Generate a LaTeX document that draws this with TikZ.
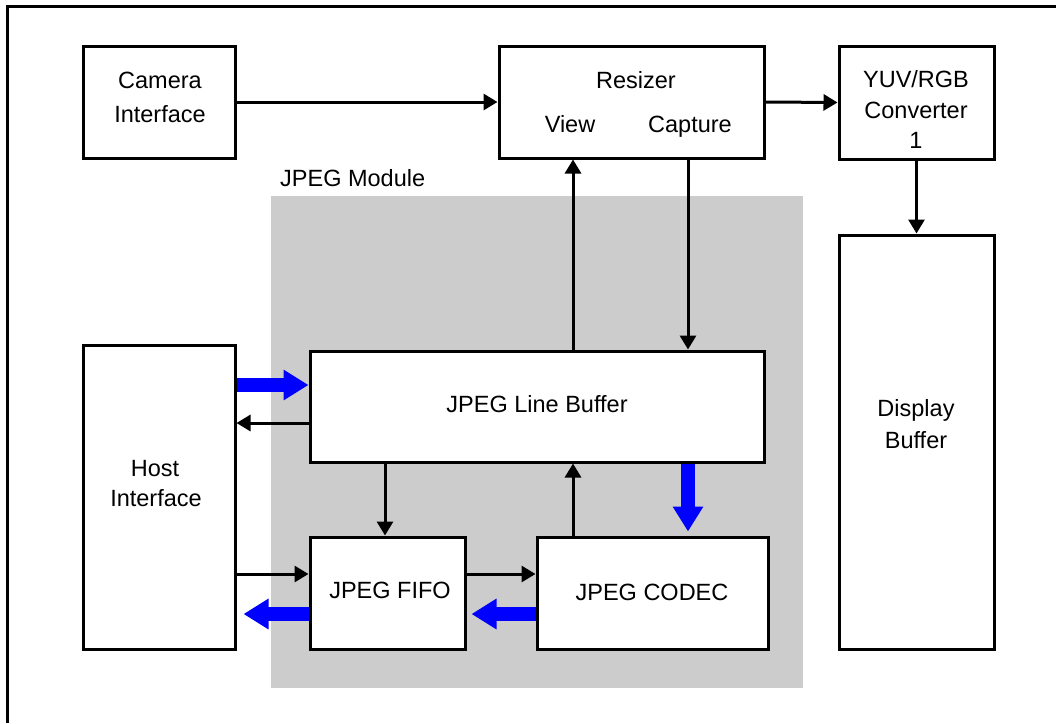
\documentclass[tikz,border=0pt]{standalone}
\usepackage{fontspec}
\setmainfont{Liberation Sans}
\usetikzlibrary{arrows.meta}
\definecolor{modgray}{RGB}{204,204,204}
\definecolor{pblue}{RGB}{0,0,255}
\newcommand\diagfont{\fontsize{23.5}{31}\selectfont}
\begin{document}
\begin{tikzpicture}[x=1pt,y=-1pt,
  box/.style={draw, line width=3pt, fill=white, inner sep=0pt},
  lbl/.style={font=\diagfont, inner sep=0pt, anchor=base},
  arr/.style={line width=3pt, -{Triangle[length=14pt,width=16pt]}},
  barr/.style={pblue, line width=14pt, -{Triangle[length=25pt,width=29pt]}}]
\useasboundingbox (0,0) rectangle (1056,723);
% frame
\draw[line width=3pt] (7,723) -- (7,6) -- (1056,6);
% module background
\node[fill=modgray, minimum width=532pt, minimum height=492pt, inner sep=0pt] (mod) at (537,442) {};
\node[lbl, anchor=base west] (modT) at (280,186) {JPEG Module};
% boxes
\node[box, minimum width=152pt, minimum height=112pt] (cam) at (159,102) {};
\node[box, minimum width=265pt, minimum height=112pt] (res) at (631.5,102) {};
\node[box, minimum width=155pt, minimum height=113pt] (yuv) at (916.5,102.5) {};
\node[box, minimum width=155pt, minimum height=414pt] (disp) at (916.5,442) {};
\node[box, minimum width=152pt, minimum height=304pt] (host) at (159,497) {};
\node[box, minimum width=454pt, minimum height=111pt] (lb) at (537,406.5) {};
\node[box, minimum width=155pt, minimum height=112pt] (fifo) at (387.5,593) {};
\node[box, minimum width=231pt, minimum height=112pt] (codec) at (652.5,593) {};
% texts
\node[lbl] (camT1) at (160,88) {Camera};
\node[lbl] (camT2) at (160,122) {Interface};
\node[lbl] (resT) at (636,88) {Resizer};
\node[lbl] (viewT) at (570,132) {View};
\node[lbl] (capT) at (690,132) {Capture};
\node[lbl] (yuvT1) at (916,87) {YUV/RGB};
\node[lbl] (yuvT2) at (916,118) {Converter};
\node[lbl] (yuvT3) at (916,148) {1};
\node[lbl] (dispT1) at (916,416.5) {Display};
\node[lbl] (dispT2) at (916,448.5) {Buffer};
\node[lbl] (hostT1) at (155,476.5) {Host};
\node[lbl] (hostT2) at (156,506.5) {Interface};
\node[lbl] (lbT) at (537,412.5) {JPEG Line Buffer};
\node[lbl] (fifoT) at (390,598.5) {JPEG FIFO};
\node[lbl] (codecT) at (652,600.5) {JPEG CODEC};
% helper coordinates
\coordinate (xv) at (573,0);
\coordinate (xc) at (688,0);
\coordinate (xf) at (385,0);
\coordinate (ya) at (0,385);
\coordinate (yb) at (0,423);
\coordinate (yc) at (0,574);
\coordinate (yd) at (0,614);
% black arrows
\draw[arr] (cam.east) -- (res.west);
\draw[arr] (res.east) -- (yuv.west);
\draw[arr] (yuv.south) -- (disp.north);
\draw[arr] (lb.north -| xv) -- (res.south -| xv);
\draw[arr] (res.south -| xc) -- (lb.north -| xc);
\draw[arr] (lb.west |- yb) -- (host.east |- yb);
\draw[arr] (lb.south -| xf) -- (fifo.north -| xf);
\draw[arr] (codec.north -| xv) -- (lb.south -| xv);
\draw[arr] (host.east |- yc) -- (fifo.west |- yc);
\draw[arr] (fifo.east |- yc) -- (codec.west |- yc);
% blue arrows
\draw[barr] (host.east |- ya) -- (lb.west |- ya);
\draw[barr, shorten >=4pt] (lb.south -| xc) -- (codec.north -| xc);
\draw[barr, shorten >=7pt] (fifo.west |- yd) -- (host.east |- yd);
\draw[barr, shorten >=5pt] (codec.west |- yd) -- (fifo.east |- yd);
\end{tikzpicture}
\end{document}
